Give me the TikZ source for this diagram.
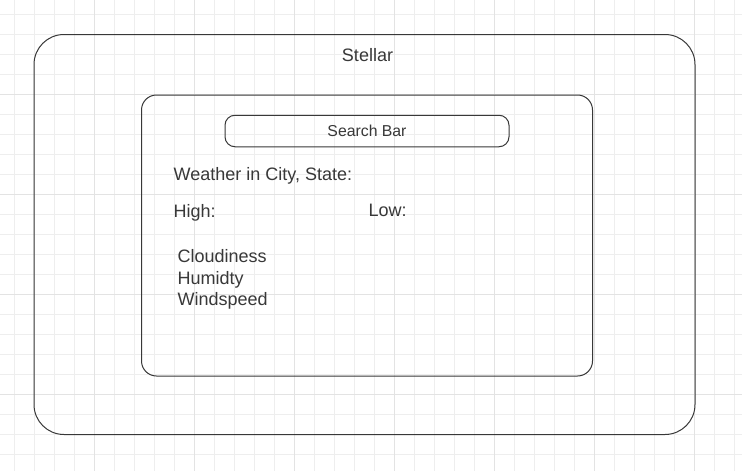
\documentclass[tikz,border=0pt]{standalone}
\usepackage{fontspec}
\setmainfont{Liberation Sans}
\usepackage{tikz}
\usetikzlibrary{positioning}
\definecolor{inkgray}{HTML}{383838}
\definecolor{minorgrid}{HTML}{EEEEEE}
\definecolor{majorgrid}{HTML}{E3E3E3}
\tikzstyle{frame} = [rectangle, draw=inkgray, line width=1pt, inner sep=0pt]
\tikzstyle{label} = [text=inkgray, inner sep=0pt, anchor=base west, font=\fontsize{18}{21.6}\selectfont]
\tikzstyle{gridline} = [draw=minorgrid, line width=1pt]
\tikzstyle{gridmajor} = [draw=majorgrid, line width=1pt]

\begin{document}
\begin{tikzpicture}[x=1pt, y=-1pt]
    \useasboundingbox (0,0) rectangle (742,471);
    \fill[white] (0,0) rectangle (742,471);
    % background grid
    \foreach \g in {14,34,...,734} \path[gridline] (\g,0) -- (\g,471);
    \foreach \g in {14,34,...,454} \path[gridline] (0,\g) -- (742,\g);
    \foreach \g in {94,194,...,694} \path[gridmajor] (\g,0) -- (\g,471);
    \foreach \g in {94,194,...,394} \path[gridmajor] (0,\g) -- (742,\g);

    \node[frame, rounded corners=30pt, minimum width=661pt, minimum height=400pt] (app) at (364.5,234.5) {};
    \node[frame, rounded corners=15pt, minimum width=451pt, minimum height=281pt] (card) at (367,235.5) {};
    \node[frame, rounded corners=10pt, minimum width=284pt, minimum height=31.5pt,
          text=inkgray, font=\fontsize{15.8}{19}\selectfont] (search) at (367,131) {Search Bar};

    \node[label, anchor=base] (title) at (367.5,61) {Stellar};
    \node[label] (city) at (173.5,180.5) {Weather in City, State:};
    \node[label] (high) at (173.5,217.5) {High:};
    \node[label] (low) at (368.5,216) {Low:};
    \node[label] (cloud) at (177.5,262.5) {Cloudiness};
    \node[label] (humid) at (177.5,284) {Humidty};
    \node[label] (wind) at (177.5,305.5) {Windspeed};
\end{tikzpicture}
\end{document}
